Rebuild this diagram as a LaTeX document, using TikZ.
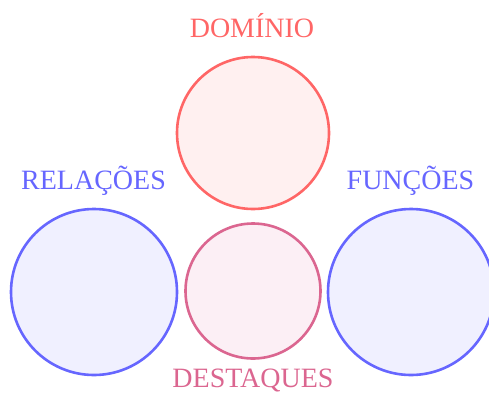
\documentclass[tikz,border=0pt]{standalone}
\usepackage{fontspec}
\setmainfont{Liberation Serif}
\definecolor{cred}{HTML}{FF6666}
\definecolor{fred}{HTML}{FFF0F0}
\definecolor{cblue}{HTML}{6666FF}
\definecolor{fblue}{HTML}{F0F0FF}
\definecolor{cpink}{HTML}{DB6690}
\definecolor{fpink}{HTML}{FCEFF5}
\begin{document}
\begin{tikzpicture}[x=1pt,y=-1pt,
  ring/.style={circle,draw,line width=2.6pt,inner sep=0pt},
  lbl/.style={anchor=base,inner sep=0pt,font=\fontsize{28}{30}\selectfont}]
\useasboundingbox (0,0) rectangle (489,394);
\begin{scope}
\clip (0,0) rectangle (489,394);
\node[ring,draw=cred,fill=fred,minimum size=152pt] (dom) at (253,133) {};
\node[ring,draw=cblue,fill=fblue,minimum size=166pt] (rel) at (94,292) {};
\node[ring,draw=cpink,fill=fpink,minimum size=135pt] (des) at (253,291) {};
\node[ring,draw=cblue,fill=fblue,minimum size=166pt] (fun) at (411,292) {};
\end{scope}
\node[lbl,text=cred] (tdom) at (252,37) {DOMÍNIO};
\node[lbl,text=cblue] (trel) at (93.5,189) {RELAÇÕES};
\node[lbl,text=cblue] (tfun) at (410.5,189) {FUNÇÕES};
\node[lbl,text=cpink] (tdes) at (253,387) {DESTAQUES};
\end{tikzpicture}
\end{document}
